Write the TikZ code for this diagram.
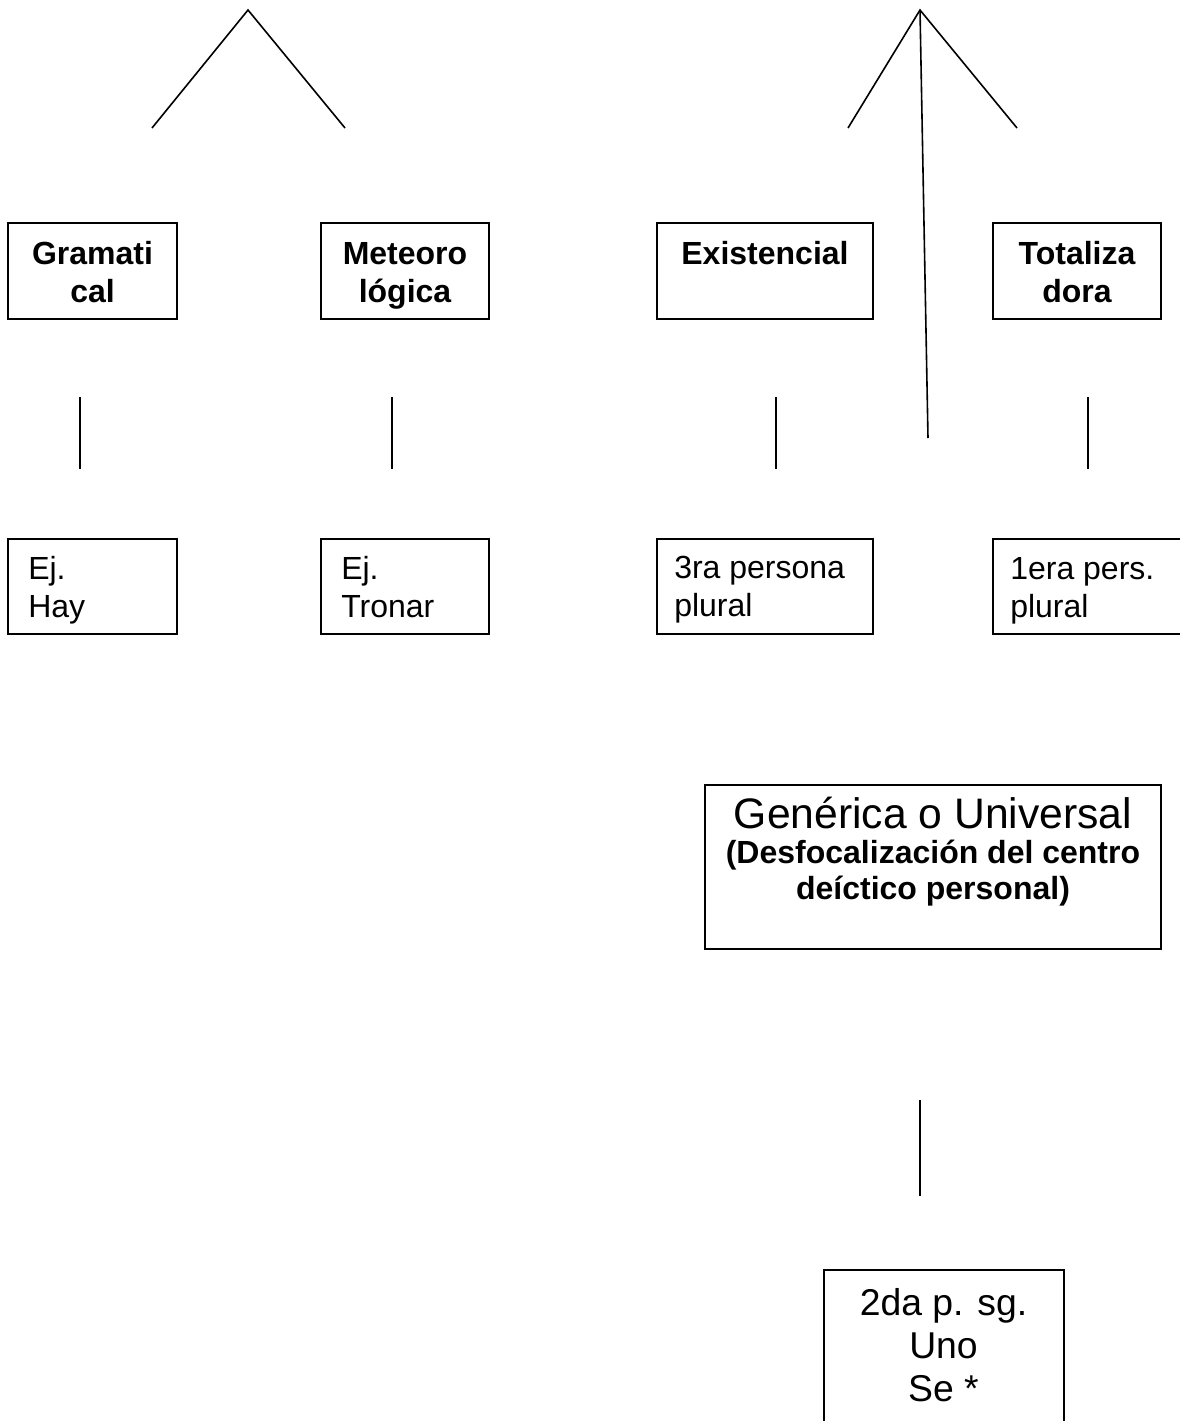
\documentclass[tikz,border=0pt]{standalone}
\usepackage{fontspec}
\setmainfont{Liberation Sans}
\usetikzlibrary{fit}

% fixed height for the first line of a text block, so its baseline sits a known distance below the node top
\newcommand{\firstrow}[1]{\rule{0pt}{#1}}

\tikzset{
  frame/.style={draw, line width=1.4pt, inner sep=0pt},
  link/.style={draw, line width=1.2pt},
  txt/.style={inner sep=0pt, font=\fontsize{24}{28.5}\selectfont},
  head/.style={txt, font=\fontsize{24}{28.5}\selectfont\bfseries, align=center, anchor=north},
  note/.style={txt, align=left, anchor=north west},
}

\begin{document}
\begin{tikzpicture}[x=0.75pt, y=-0.75pt]
  \useasboundingbox (0,0) rectangle (1180,1421);
  \clip (0,0) rectangle (1180,1421);

  % upper branching points
  \coordinate (apexL) at (248,10);
  \coordinate (apexR) at (920,10);
  \coordinate (legL1) at (152,128);
  \coordinate (legL2) at (345,128);
  \coordinate (legR1) at (848,128);
  \coordinate (legR2) at (1017,128);
  \coordinate (legR3) at (928,438);

  % first row: classes
  \node[frame, fit={(8,223) (177,319)}] (gram) {};
  \node[frame, fit={(321,223) (489,319)}] (meteo) {};
  \node[frame, fit={(657,223) (873,319)}] (exist) {};
  \node[frame, fit={(993,223) (1161,319)}] (total) {};

  \node[head] (gramT) at (92.5,240) {\firstrow{18pt}Gramati\\cal};
  \node[head] (meteoT) at (405,240) {\firstrow{18pt}Meteoro\\lógica};
  \node[head] (existT) at (765,240) {\firstrow{18pt}Existencial};
  \node[head] (totalT) at (1077,240) {\firstrow{18pt}Totaliza\\dora};

  % second row: examples
  \node[frame, fit={(8,539) (177,634)}] (hay) {};
  \node[frame, fit={(321,539) (489,634)}] (tronar) {};
  \node[frame, fit={(657,539) (873,634)}] (tercera) {};
  \node[frame, fit={(993,539) (1200,634)}] (primera) {};

  \node[note] (hayT) at (28,555) {\firstrow{18pt}Ej.\\Hay};
  \node[note] (tronarT) at (341,555) {\firstrow{18pt}Ej.\\Tronar};
  \node[note] (terceraT) at (674,554) {\firstrow{18pt}3ra persona\\plural};
  \node[note] (primeraT) at (1010,555) {\firstrow{18pt}1era pers.\\plural};

  % generic reading
  \node[frame, fit={(705,785) (1161,949)}] (gen) {};
  \node[txt, anchor=base, font=\fontsize{32}{36}\selectfont] (genT) at (933,828) {Genérica o Universal};
  \node[head, font=\fontsize{24}{27}\selectfont\bfseries] (genS) at (933,839)
    {\firstrow{18pt}(Desfocalización del centro\\deíctico personal)};

  % bottom box
  \node[frame, fit={(824,1270) (1064,1440)}] (seg) {};
  \node[txt, align=center, anchor=north, font=\fontsize{28}{32.2}\selectfont] (segT) at (943.5,1287)
    {\firstrow{21pt}2da p. sg.\\Uno\\Se *};

  % vertical links between rows
  \coordinate (v1a) at (80,397);   \coordinate (v1b) at (80,469);
  \coordinate (v2a) at (392,397);  \coordinate (v2b) at (392,469);
  \coordinate (v3a) at (776,397);  \coordinate (v3b) at (776,469);
  \coordinate (v4a) at (1088,397); \coordinate (v4b) at (1088,469);
  \coordinate (v5a) at (920,1100); \coordinate (v5b) at (920,1196);

  \draw[link] (legL1) -- (apexL) -- (legL2);
  \draw[link] (legR1) -- (apexR) -- (legR2);
  \draw[link] (apexR) -- (legR3);
  \draw[link] (v1a) -- (v1b);
  \draw[link] (v2a) -- (v2b);
  \draw[link] (v3a) -- (v3b);
  \draw[link] (v4a) -- (v4b);
  \draw[link] (v5a) -- (v5b);
\end{tikzpicture}
\end{document}
